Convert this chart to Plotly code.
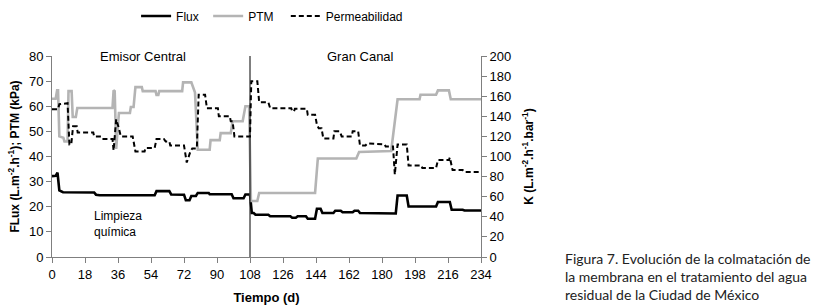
import plotly.graph_objects as go

# ---- Data ----
flux_days = [0, 2, 3, 4, 6, 23, 24, 26, 56, 57, 64, 65, 72, 73, 75, 76, 78.5, 79.5, 85.5, 86, 98, 99, 104.5, 105.5, 108,
             109, 110, 111, 118, 119, 130, 131, 133, 134, 138.5, 139.5, 143.5, 144.5, 146.5, 147.5, 153.5, 154.5, 157.5,
             158.5, 164, 165, 167, 168, 187.5, 188.5, 193.5, 194.5, 209.5, 210.5, 217, 218, 224, 225, 234]
flux_vals = [32.2, 32.3, 33.6, 26.5, 25.8, 25.7, 24.8, 24.6, 24.6, 26.2, 26.2, 24.9, 24.8, 22.6, 22.6, 24.3, 24.3, 25.5, 25.5, 25.0, 25.0, 23.4, 23.4, 24.9, 24.9,
             17.5, 17.5, 16.8, 16.8, 16.2, 16.2, 15.6, 15.6, 16.2, 16.2, 15.2, 15.2, 19.2, 19.2, 17.5, 17.5, 18.4, 18.4,
             17.8, 17.8, 18.4, 18.4, 17.5, 17.3, 24.5, 24.5, 20.1, 20.1, 21.9, 21.9, 18.8, 18.8, 18.5, 18.5]

ptm_days = [0, 2, 2.8, 3.3, 4.0, 6.2, 6.8, 8.5, 9.0, 10.7, 11.3, 13.0, 13.8, 33.0, 33.6, 34.2, 35, 36.5, 42.5, 43, 44.5,
            45.5, 49, 49.5, 56.5, 57, 58, 58.5, 71, 71.5, 76, 78, 79.5, 86, 86.5, 91.5, 92, 97.5, 98.5, 104, 105.5, 107.5,
            108.5, 112, 113, 143.5, 145, 166, 167.5, 185, 188.5, 200.5, 201, 209.5, 210.5, 216.5, 217.5, 234]
ptm_vals = [63, 63, 66.3, 66.3, 48, 47.5, 46, 46, 66, 66, 55.7, 55.7, 59.3, 59.3, 66.3, 66, 43, 57.3, 57.3, 59.7, 59.7,
            67.6, 67.6, 66, 66, 64.5, 64.5, 66, 66, 69.5, 69.5, 65.5, 42.7, 42.7, 46.5, 46.5, 49.3, 49.3, 54, 54, 60, 60,
            22.3, 22.3, 25.5, 25.5, 39.2, 39.2, 41.8, 42.2, 62.8, 62.8, 64.6, 64.6, 66.3, 66.3, 62.8, 62.8]

perm_days = [0, 3.3, 4, 8.5, 9.5, 10.5, 11.5, 13.5, 14, 22.5, 23, 26.7, 27.5, 33, 33.6, 35, 36.5, 37.5, 44, 45.5, 50.5,
             51, 56, 57, 61, 62, 64, 64.5, 72, 73.5, 75.5, 76.5, 79, 80, 83.5, 84.5, 90.5, 91, 97, 97.5, 98.5, 99.5, 108,
             108.7, 112, 113, 118, 119, 130.5, 131, 132, 132.5, 139, 139.5, 143.5, 144.5, 145.5, 147, 148, 153.5, 154,
             157, 158, 163.5, 164, 167, 168, 171, 172, 181.5, 182, 186, 187, 188.5, 193.5, 194.5, 201.5, 202, 209.5,
             210.5, 216.5, 217, 218.5, 224, 225, 234]
perm_vals = [147, 147, 152, 153, 112, 112, 130, 130, 124, 124, 120, 120, 117.5, 117.5, 106, 137, 128, 120, 120, 105, 105,
             108.5, 108.5, 117.5, 117.5, 115, 115, 111, 111, 94, 105, 108, 108, 161.5, 161.5, 148, 148, 140, 140, 135, 135, 120, 120,
             175, 175, 154, 154, 148, 148, 145, 145, 147.5, 147.5, 141.5, 141.5, 131.5, 128, 128, 118, 118, 125,
             125, 120, 120, 125, 125, 111, 111, 113, 112, 110, 110, 82, 112, 112, 91, 91, 88.5, 88.5,
             96.5, 96.5, 99, 86.5, 86.5, 84.5, 84.5]

x_ticks = [0, 18, 36, 54, 72, 90, 108, 126, 144, 162, 180, 198, 216, 234]
y_ticks = [0, 10, 20, 30, 40, 50, 60, 70, 80]
y2_ticks = [0, 20, 40, 60, 80, 100, 120, 140, 160, 180, 200]

FONT = "Liberation Sans, Arial, sans-serif"
AXC = "#7f7f7f"

fig = go.Figure()
fig.add_trace(go.Scatter(x=flux_days, y=flux_vals, name="Flux", mode="lines", legend="legend",
                         line=dict(color="black", width=2.6)))
fig.add_trace(go.Scatter(x=ptm_days, y=ptm_vals, name="PTM", mode="lines", legend="legend2",
                         line=dict(color="#b4b4b4", width=2.6)))
fig.add_trace(go.Scatter(x=perm_days, y=perm_vals, name="Permeabilidad", mode="lines", yaxis="y2", legend="legend3",
                         line=dict(color="black", width=2, dash="5px,3px")))

fig.add_shape(type="line", xref="x", yref="y", x0=108, x1=108, y0=0, y1=80,
              line=dict(color="black", width=1))

fig.add_annotation(text="Emisor Central", x=49.6, y=80, xref="x", yref="y", showarrow=False,
                   font=dict(size=13, color="black", family=FONT), yanchor="middle")
fig.add_annotation(text="Gran Canal", x=168, y=80, xref="x", yref="y", showarrow=False,
                   font=dict(size=13, color="black", family=FONT), yanchor="middle")
fig.add_annotation(text="Limpieza<br>química", x=21.8, y=13.3, xref="x", yref="y", showarrow=False,
                   xanchor="left", align="left",
                   font=dict(size=12, color="black", family=FONT), yanchor="middle")
fig.add_annotation(text="Figura 7. Evolución de la colmatación de<br>la membrana en el tratamiento del agua<br>residual de la Ciudad de México",
                   x=1.192, y=0.045, xref="paper", yref="paper", showarrow=False,
                   xanchor="left", yanchor="top", align="left",
                   font=dict(size=14, color="#222222", family="Lato, Noto Sans, sans-serif"))

leg_common = dict(orientation="h", y=1 - 16 / 308, yref="container", xanchor="left", yanchor="middle",
                  font=dict(size=12, family=FONT), bgcolor="rgba(0,0,0,0)")

fig.update_layout(
    width=813, height=308,
    margin=dict(l=52, r=332, t=56, b=51, autoexpand=False),
    paper_bgcolor="white", plot_bgcolor="white",
    font=dict(family=FONT, size=13, color="black"),
    showlegend=True,
    legend=dict(x=0.196, **leg_common),
    legend2=dict(x=0.364, **leg_common),
    legend3=dict(x=0.545, **leg_common),
    xaxis=dict(range=[0, 234], tickvals=x_ticks, ticks="outside", ticklen=5, tickcolor=AXC, automargin=False,
               showline=True, linecolor=AXC, linewidth=1, showgrid=False, zeroline=False,
               title=dict(text="<b>Tiempo (d)</b>", font=dict(size=13), standoff=12)),
    yaxis=dict(range=[0, 80], tickvals=y_ticks, ticks="outside", ticklen=5, tickcolor=AXC, automargin=False,
               showline=True, linecolor=AXC, linewidth=1, showgrid=False, zeroline=False,
               title=dict(text="<b>FLux (L.m<sup>-2</sup>.h<sup>-1</sup>); PTM (kPa)</b>", font=dict(size=12), standoff=6)),
    yaxis2=dict(range=[0, 200], tickvals=y2_ticks, ticks="outside", ticklen=5, tickcolor=AXC, automargin=False,
                overlaying="y", side="right",
                showline=True, linecolor=AXC, linewidth=1, showgrid=False, zeroline=False,
                title=dict(text="<b>K (L.m<sup>-2</sup>.h<sup>-1</sup>.bar<sup>-1</sup>)</b>", font=dict(size=12), standoff=14)),
)

fig.write_html("out.html", config={"displayModeBar": False},
               post_script="document.body.style.margin='0';")
